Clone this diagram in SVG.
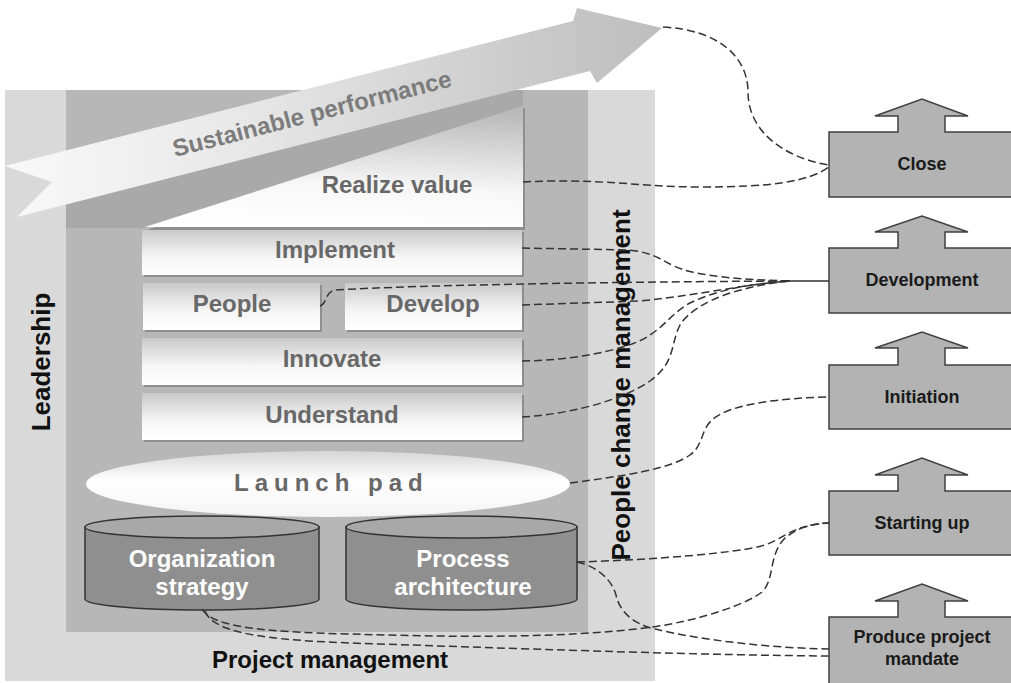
<svg xmlns="http://www.w3.org/2000/svg" width="1011" height="683" viewBox="0 0 1011 683">
<defs>
<linearGradient id="arrowGrad" x1="0" y1="0" x2="1" y2="0">
<stop offset="0" stop-color="#f9f9f9"/>
<stop offset="0.35" stop-color="#e8e8e8"/>
<stop offset="1" stop-color="#bdbdbd"/>
</linearGradient>
<linearGradient id="boxGrad" x1="0" y1="0" x2="0" y2="1">
<stop offset="0" stop-color="#c9c9c9"/>
<stop offset="0.6" stop-color="#f6f6f6"/>
<stop offset="1" stop-color="#ffffff"/>
</linearGradient>
<linearGradient id="realizeGrad" x1="0.6" y1="0" x2="0.45" y2="1">
<stop offset="0" stop-color="#b9b9b9"/>
<stop offset="0.65" stop-color="#f7f7f7"/>
<stop offset="1" stop-color="#ffffff"/>
</linearGradient>
<linearGradient id="padGrad" x1="0" y1="0" x2="0" y2="1">
<stop offset="0" stop-color="#d6d6d6"/>
<stop offset="0.45" stop-color="#ffffff"/>
<stop offset="1" stop-color="#f4f4f4"/>
</linearGradient>
<style>
.lbl{font-family:"Liberation Sans",Arial,sans-serif;font-weight:bold;font-size:24px;fill:#686868;text-anchor:middle}
.cyl{font-family:"Liberation Sans",Arial,sans-serif;font-weight:bold;font-size:24px;fill:#ffffff;text-anchor:middle}
.big{font-family:"Liberation Sans",Arial,sans-serif;font-weight:bold;fill:#111111;text-anchor:middle}
.rt{font-family:"Liberation Sans",Arial,sans-serif;font-weight:bold;font-size:18px;fill:#1a1a1a;text-anchor:middle}
.box{fill:url(#boxGrad)}
.shd{fill:#8e8e8e}
.phase{fill:#b3b3b3;stroke:#404040;stroke-width:1.5}
.cylbody{fill:#8f8f8f;stroke:#333333;stroke-width:1.5}
.cyltop{fill:#a8a8a8;stroke:#333333;stroke-width:1.5}
.dash{fill:none;stroke:#333333;stroke-width:1.5;stroke-dasharray:8 4}
</style>
</defs>
<rect width="1011" height="683" fill="#ffffff"/>
<g id="background">
<rect x="5" y="90" width="650" height="591" fill="#d9d9d9"/>
<rect x="66" y="90" width="522" height="542" fill="#b7b7b7"/>
<polygon points="66,204.5 515,90 523,90 523,106 145,228 66,228" fill="#a9a9a9"/>
</g>
<g id="leadership"><text class="big" font-size="26" transform="translate(50,362) rotate(-90)">Leadership</text></g>
<g id="people-change-management"><text class="big" font-size="26" transform="translate(630,385) rotate(-90)">People change management</text></g>
<g id="project-management"><text class="big" font-size="24" x="330" y="668">Project management</text></g>
<g id="realize-value">
<polygon points="147,230 525,108 525,230" class="shd"/>
<polygon points="145,227 523,106 523,227" fill="url(#realizeGrad)"/>
<text class="lbl" x="397" y="193">Realize value</text>
</g>
<g id="sustainable-performance">
<polygon points="5,166 573,21 577,8 662,28 597,83 590,71 17,217 52,182" fill="url(#arrowGrad)"/>
<text class="lbl" style="text-anchor:start;fill:#7c7c7c" transform="translate(175,157) rotate(-14.3)">Sustainable performance</text>
</g>
<g id="implement">
<rect x="144" y="232" width="380" height="45" class="shd"/>
<rect x="142" y="230" width="380" height="45" class="box"/>
<text class="lbl" x="335" y="258">Implement</text>
</g>
<g id="people">
<rect x="145" y="285" width="177" height="47" class="shd"/>
<rect x="143" y="283" width="177" height="47" class="box"/>
<text class="lbl" x="232" y="312">People</text>
</g>
<g id="develop">
<rect x="347" y="285" width="177" height="47" class="shd"/>
<rect x="345" y="283" width="177" height="47" class="box"/>
<text class="lbl" x="433" y="312">Develop</text>
</g>
<g id="innovate">
<rect x="144" y="340" width="380" height="47" class="shd"/>
<rect x="142" y="338" width="380" height="47" class="box"/>
<text class="lbl" x="332" y="367">Innovate</text>
</g>
<g id="understand">
<rect x="144" y="395" width="380" height="47" class="shd"/>
<rect x="142" y="393" width="380" height="47" class="box"/>
<text class="lbl" x="332" y="423">Understand</text>
</g>
<g id="launch-pad">
<ellipse cx="328" cy="484" rx="242" ry="33" fill="url(#padGrad)"/>
<text class="lbl" x="234" y="491" style="text-anchor:start;letter-spacing:6px">Launch pad</text>
</g>
<g id="organization-strategy">
<path d="M85,527 L85,599 A117,11 0 0 0 319,599 L319,527 Z" class="cylbody"/>
<ellipse cx="202" cy="527" rx="117" ry="11" class="cyltop"/>
<text class="cyl" x="202" y="567">Organization</text>
<text class="cyl" x="202" y="595">strategy</text>
</g>
<g id="process-architecture">
<path d="M346,527 L346,599 A115.5,11 0 0 0 577,599 L577,527 Z" class="cylbody"/>
<ellipse cx="461.5" cy="527" rx="115.5" ry="11" class="cyltop"/>
<text class="cyl" x="463" y="567">Process</text>
<text class="cyl" x="463" y="595">architecture</text>
</g>
<g id="close">
<path d="M829,132 L898,132 L898,116 L875,116 L922,99 L968,116 L945,116 L945,132 L1022,132 L1022,197 L829,197 Z" class="phase"/>
<text class="rt" x="922" y="170">Close</text>
</g>
<g id="development">
<path d="M829,248 L898,248 L898,232 L875,232 L922,216 L968,232 L945,232 L945,248 L1022,248 L1022,313 L829,313 Z" class="phase"/>
<text class="rt" x="922" y="286">Development</text>
</g>
<g id="initiation">
<path d="M829,365 L898,365 L898,348 L875,348 L922,332 L968,348 L945,348 L945,365 L1022,365 L1022,429 L829,429 Z" class="phase"/>
<text class="rt" x="922" y="403">Initiation</text>
</g>
<g id="starting-up">
<path d="M829,491 L898,491 L898,475 L875,475 L922,458 L968,475 L945,475 L945,491 L1022,491 L1022,555 L829,555 Z" class="phase"/>
<text class="rt" x="922" y="529">Starting up</text>
</g>
<g id="produce-project-mandate">
<path d="M829,617 L898,617 L898,601 L875,601 L922,584 L968,601 L945,601 L945,617 L1022,617 L1022,684 L829,684 Z" class="phase"/>
<text class="rt" x="922" y="643">Produce project</text>
<text class="rt" x="922" y="665">mandate</text>
</g>
<g id="connectors">
<path class="dash" d="M663,27 C720,30 748,58 748,92 C748,132 785,158 829,165"/>
<path class="dash" d="M523,182 C600,178 640,187 700,187 C770,187 808,182 829,167"/>
<path class="dash" d="M522,248 L628,250 C662,253 664,266 692,272 C725,279 760,280 790,281"/>
<path class="dash" d="M320,306 C327,304 325,292 335,290 C420,285 600,282 790,281"/>
<path class="dash" d="M522,305 L640,301 C700,295 745,284 790,281"/>
<path class="dash" d="M522,361 C572,360 605,353 632,344 C662,333 668,315 690,303 C720,288 760,283 790,281"/>
<path class="dash" d="M522,417 C572,414 622,400 650,381 C676,362 670,345 680,325 C697,298 750,285 790,281"/>
<path d="M786,281 L829,281" fill="none" stroke="#333333" stroke-width="1.5"/>
<path class="dash" d="M570,483 C622,476 668,470 690,455 C704,445 700,430 713,419 C731,404 780,398 829,397"/>
<path class="dash" d="M577,562 C650,560 740,553 765,545 C785,538 790,526 829,523"/>
<path class="dash" d="M577,562 C597,566 612,580 616,595 C619,610 632,624 655,629 C700,640 770,648 829,649"/>
<path class="dash" d="M202,609 C212,628 270,632 350,634 C450,637 560,639 653,627 C700,620 745,605 762,592 C775,580 768,555 785,538 C800,526 815,523 829,523"/>
<path class="dash" d="M205,611 C214,636 280,641 380,644 C560,650 700,655 829,656"/>
</g>
</svg>
